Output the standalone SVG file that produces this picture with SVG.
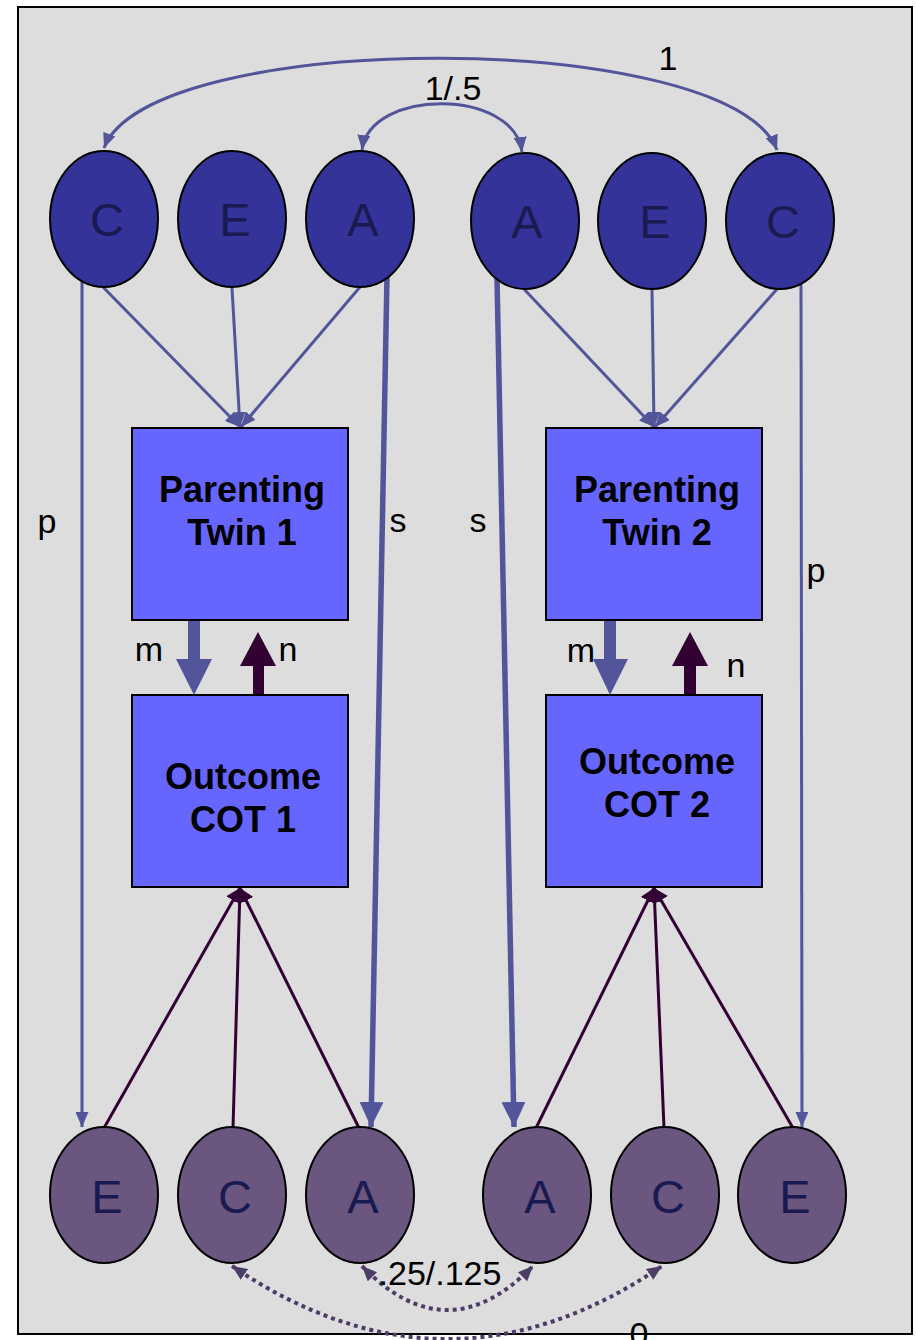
<svg xmlns="http://www.w3.org/2000/svg" width="916" height="1340" viewBox="0 0 916 1340">
<style>
.bg{fill:#dddddd;stroke:#000;stroke-width:2}
.lat1{fill:#333399;stroke:#000;stroke-width:2}
.lat2{fill:#6b5680;stroke:#000;stroke-width:2}
.box{fill:#6666ff;stroke:#000;stroke-width:2}
.ltr{font-family:"Liberation Sans",Arial,sans-serif;font-size:47px;fill:#1a1a50;text-anchor:middle}
.bt{font-family:"Liberation Sans",Arial,sans-serif;font-size:36px;font-weight:bold;fill:#000;text-anchor:middle}
.lbl{font-family:"Liberation Sans",Arial,sans-serif;font-size:34px;fill:#000;text-anchor:middle}
.blue{fill:none;stroke:#525599;stroke-width:3}
.thick{fill:none;stroke:#525599;stroke-width:5.5}
.purp{fill:none;stroke:#330033;stroke-width:3}
.dot{fill:none;stroke:#4d3d66;stroke-width:4;stroke-dasharray:4 4}
</style>
<defs>
<marker id="ab" markerUnits="userSpaceOnUse" markerWidth="15" markerHeight="13" refX="15" refY="6.5" orient="auto-start-reverse"><path d="M0,0 L15,6.5 L0,13 z" fill="#525599"/></marker>
<marker id="abig" markerUnits="userSpaceOnUse" markerWidth="25" markerHeight="24" refX="25" refY="12" orient="auto"><path d="M0,0 L25,12 L0,24 z" fill="#525599"/></marker>
<marker id="ap" markerUnits="userSpaceOnUse" markerWidth="14" markerHeight="16" refX="14" refY="8" orient="auto"><path d="M0,0 L14,8 L0,16 z" fill="#330033"/></marker>
<marker id="ad" markerUnits="userSpaceOnUse" markerWidth="15" markerHeight="13" refX="15" refY="6.5" orient="auto-start-reverse"><path d="M0,0 L15,6.5 L0,13 z" fill="#4d3d66"/></marker>
</defs>
<rect class="bg" x="18" y="7" width="894" height="1327"/>
<g id="connectors">
<path class="blue" d="M104,148 C150,28 730,28 777,150" marker-start="url(#ab)" marker-end="url(#ab)"/>
<path class="blue" d="M362,150 C370,88 514,88 522,152" marker-start="url(#ab)" marker-end="url(#ab)"/>
<line class="blue" x1="103" y1="287" x2="240" y2="427" marker-end="url(#ab)"/>
<line class="blue" x1="232" y1="288" x2="240" y2="427" marker-end="url(#ab)"/>
<line class="blue" x1="360" y1="287" x2="241" y2="427" marker-end="url(#ab)"/>
<line class="blue" x1="523" y1="288" x2="654" y2="427" marker-end="url(#ab)"/>
<line class="blue" x1="652" y1="290" x2="654" y2="427" marker-end="url(#ab)"/>
<line class="blue" x1="778" y1="288" x2="655" y2="427" marker-end="url(#ab)"/>
<line class="blue" x1="82" y1="279" x2="82" y2="1127" marker-end="url(#ab)"/>
<line class="blue" x1="801" y1="281" x2="802" y2="1127" marker-end="url(#ab)"/>
<line class="thick" x1="387" y1="276" x2="371" y2="1127" marker-end="url(#abig)"/>
<line class="thick" x1="497" y1="278" x2="514" y2="1127" marker-end="url(#abig)"/>
<line class="purp" x1="104" y1="1128" x2="240" y2="888" marker-end="url(#ap)"/>
<line class="purp" x1="233" y1="1128" x2="240" y2="888" marker-end="url(#ap)"/>
<line class="purp" x1="359" y1="1128" x2="240" y2="888" marker-end="url(#ap)"/>
<line class="purp" x1="536" y1="1128" x2="654" y2="888" marker-end="url(#ap)"/>
<line class="purp" x1="664" y1="1128" x2="654" y2="888" marker-end="url(#ap)"/>
<line class="purp" x1="793" y1="1128" x2="654" y2="888" marker-end="url(#ap)"/>
<polygon points="188,620 200,620 200,659 212,659 194,695 176,659 188,659" fill="#525599"/>
<polygon points="253,695 264,695 264,666 276,666 258,632 240,666 253,666" fill="#330033"/>
<polygon points="604,620 616,620 616,659 628,659 610,695 593,659 604,659" fill="#525599"/>
<polygon points="684,695 696,695 696,666 708,666 690,632 672,666 684,666" fill="#330033"/>
<path class="dot" d="M362,1266 Q447,1354 533,1266" marker-start="url(#ad)" marker-end="url(#ad)"/>
<path class="dot" d="M232,1266 Q447,1412 662,1266" marker-start="url(#ad)" marker-end="url(#ad)"/>
<text class="lbl" x="668" y="70">1</text>
<text class="lbl" x="453" y="100">1/.5</text>
<text class="lbl" x="47" y="533">p</text>
<text class="lbl" x="398" y="532">s</text>
<text class="lbl" x="478" y="532">s</text>
<text class="lbl" x="816" y="582">p</text>
<text class="lbl" x="149" y="661">m</text>
<text class="lbl" x="288" y="661">n</text>
<text class="lbl" x="581" y="662">m</text>
<text class="lbl" x="736" y="677">n</text>
<text class="lbl" x="440" y="1285">.25/.125</text>
<text class="lbl" x="639" y="1346">0</text>
</g>
<g id="C1t"><ellipse class="lat1" cx="104" cy="219" rx="54" ry="68"/><text class="ltr" x="107" y="236">C</text></g>
<g id="E1t"><ellipse class="lat1" cx="232" cy="219" rx="54" ry="68"/><text class="ltr" x="235" y="236">E</text></g>
<g id="A1t"><ellipse class="lat1" cx="360" cy="219" rx="54" ry="68"/><text class="ltr" x="363" y="236">A</text></g>
<g id="A2t"><ellipse class="lat1" cx="525" cy="221" rx="54" ry="68"/><text class="ltr" x="527" y="238">A</text></g>
<g id="E2t"><ellipse class="lat1" cx="652" cy="221" rx="54" ry="68"/><text class="ltr" x="655" y="238">E</text></g>
<g id="C2t"><ellipse class="lat1" cx="780" cy="221" rx="54" ry="68"/><text class="ltr" x="783" y="238">C</text></g>
<g id="par1"><rect class="box" x="132" y="428" width="216" height="192"/><text class="bt" x="242" y="502">Parenting</text><text class="bt" x="242" y="545">Twin 1</text></g>
<g id="par2"><rect class="box" x="546" y="428" width="216" height="192"/><text class="bt" x="657" y="502">Parenting</text><text class="bt" x="657" y="545">Twin 2</text></g>
<g id="out1"><rect class="box" x="132" y="695" width="216" height="192"/><text class="bt" x="243" y="789">Outcome</text><text class="bt" x="243" y="832">COT 1</text></g>
<g id="out2"><rect class="box" x="546" y="695" width="216" height="192"/><text class="bt" x="657" y="774">Outcome</text><text class="bt" x="657" y="817">COT 2</text></g>
<g id="E1b"><ellipse class="lat2" cx="104" cy="1195" rx="54" ry="68"/><text class="ltr" x="107" y="1213">E</text></g>
<g id="C1b"><ellipse class="lat2" cx="232" cy="1195" rx="54" ry="68"/><text class="ltr" x="235" y="1213">C</text></g>
<g id="A1b"><ellipse class="lat2" cx="360" cy="1195" rx="54" ry="68"/><text class="ltr" x="363" y="1213">A</text></g>
<g id="A2b"><ellipse class="lat2" cx="537" cy="1195" rx="54" ry="68"/><text class="ltr" x="540" y="1213">A</text></g>
<g id="C2b"><ellipse class="lat2" cx="665" cy="1195" rx="54" ry="68"/><text class="ltr" x="668" y="1213">C</text></g>
<g id="E2b"><ellipse class="lat2" cx="792" cy="1195" rx="54" ry="68"/><text class="ltr" x="795" y="1213">E</text></g>
</svg>
